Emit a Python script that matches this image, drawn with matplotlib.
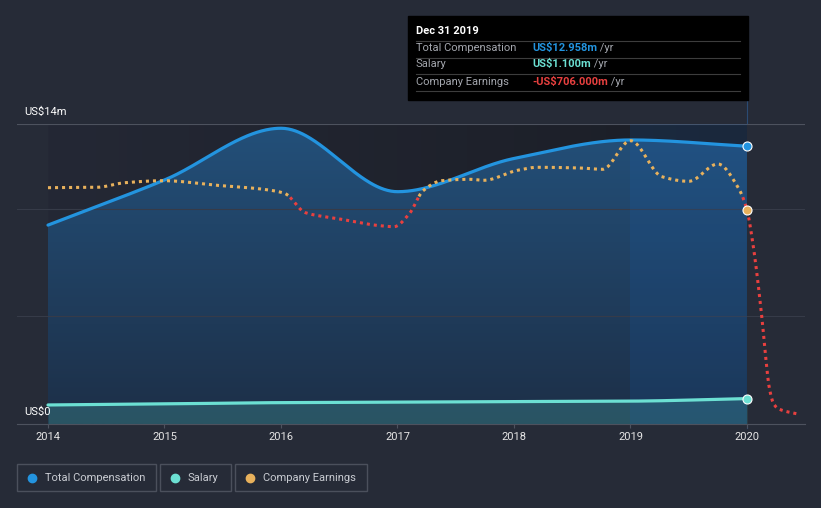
import numpy as np
import matplotlib.pyplot as plt
from matplotlib.colors import LinearSegmentedColormap
from matplotlib.patches import Rectangle
from matplotlib.lines import Line2D

plt.rcParams['font.family'] = ['Roboto', 'DejaVu Sans']

# Chart data (US$m)
YEARS = [2014, 2015, 2016, 2017, 2018, 2019, 2020]
TOTAL_COMP = [9.25, 11.37, 13.8, 10.82, 12.38, 13.25, 12.958]
SALARY = [0.8, 0.85, 0.91, 0.93, 0.96, 0.98, 1.1]
EARN_DATES = [2014.00, 2014.42, 2014.66, 2014.99, 2015.45, 2015.85, 2016.03,
              2016.21, 2016.49, 2016.85, 2016.97, 2017.10, 2017.22, 2017.38,
              2017.62, 2017.74, 2018.03, 2018.20, 2018.57, 2018.76, 2019.00,
              2019.27, 2019.50, 2019.75, 2019.92, 2020.00, 2020.05, 2020.13,
              2020.16, 2020.19, 2020.23, 2020.27, 2020.45]
EARNINGS = [505, 527, 776, 885, 635, 418, 201, -852, -1178, -1558, -1613,
            -923, 342, 885, 961, 907, 1450, 1613, 1575, 1504, 3057, 1102, 853,
            1792, 559, -706, -2500, -6680, -8660, -10300, -11240, -11500, -11800]
X_LABELS = ['2014', '2015', '2016', '2017', '2018', '2019', '2020']

BG = '#262b37'
BLUE = '#2394df'
TEAL = '#6ce0d3'
ORANGE = '#e8b15c'
RED = '#e8403f'
W, H = 821, 508


def fx(px):
    return px / W


def fy(py):
    return 1 - py / H


def smooth(x, y, n=600):
    """monotone cubic curve through the points, for drawing only"""
    x = np.asarray(x, float)
    y = np.asarray(y, float)
    h = np.diff(x)
    d = np.diff(y) / h
    m = np.zeros_like(y)
    m[0], m[-1] = d[0], d[-1]
    for k in range(1, len(y) - 1):
        if d[k - 1] * d[k] > 0:
            w1 = 2 * h[k] + h[k - 1]
            w2 = h[k] + 2 * h[k - 1]
            m[k] = (w1 + w2) / (w1 / d[k - 1] + w2 / d[k])
    xs = np.linspace(x[0], x[-1], n)
    idx = np.clip(np.searchsorted(x, xs) - 1, 0, len(h) - 1)
    t = (xs - x[idx]) / h[idx]
    h00 = 2 * t**3 - 3 * t**2 + 1
    h10 = t**3 - 2 * t**2 + t
    h01 = -2 * t**3 + 3 * t**2
    h11 = t**3 - t**2
    ys = (h00 * y[idx] + h10 * h[idx] * m[idx] + h01 * y[idx + 1]
          + h11 * h[idx] * m[idx + 1])
    return xs, ys


fig = plt.figure(figsize=(W / 100, H / 100), dpi=100, facecolor=BG)
ax = fig.add_axes([fx(17), fy(424), 788 / W, 300 / H])
ax.set_facecolor(BG)
XLIM = (2013.734, 2020.498)
YLIM = (-0.094, 14)

# darker plot background between first and last year
bg_cmap = LinearSegmentedColormap.from_list('bg', ['#242835', '#1b1e26'])
ax.imshow(np.linspace(0, 1, 256).reshape(1, -1), cmap=bg_cmap, aspect='auto',
          extent=(2014, 2020, YLIM[0], YLIM[1]), zorder=0,
          interpolation='bilinear')

# total compensation area with vertical gradient
tx, ty = smooth(YEARS, TOTAL_COMP)
poly = ax.fill_between(tx, ty, YLIM[0], color='none', zorder=1)
fill_cmap = LinearSegmentedColormap.from_list('fill', ['#1d2f47', '#23507a'])
im = ax.imshow(np.linspace(0, 1, 256).reshape(-1, 1), cmap=fill_cmap,
               aspect='auto', origin='lower', interpolation='bilinear',
               extent=(2014, 2020, YLIM[0], YLIM[1]), zorder=1)
im.set_clip_path(poly.get_paths()[0], ax.transData)

sx, sy = smooth(YEARS, SALARY)
ax.fill_between(sx, sy, YLIM[0], color='#4fc3b9', alpha=0.25, lw=0, zorder=2)

# highlighted last year
ax.axvspan(2019, 2020, color='#1565c0', alpha=0.15, lw=0, zorder=2)

for val, col in [(14, '#4d525e'), (10, '#363b48'), (5, '#363b48')]:
    ax.axhline(val, color=col, lw=0.8, zorder=1.5)

ax.plot(tx, ty, color=BLUE, lw=2.3, zorder=4, solid_capstyle='round')
ax.plot(sx, sy, color=TEAL, lw=2.3, zorder=4, solid_capstyle='round')
ax.plot([YEARS[-1]], [TOTAL_COMP[-1]], 'o', ms=6.5, color=BLUE, mec='white',
        mew=0.8, zorder=7)
ax.plot([YEARS[-1]], [SALARY[-1]], 'o', ms=6.5, color=TEAL, mec='white',
        mew=0.8, zorder=7)

ax.set_xlim(XLIM)
ax.set_ylim(YLIM)
ax.set_xticks(YEARS)
ax.set_xticklabels(X_LABELS)
ax.set_yticks([])
for side in ['top', 'right', 'left']:
    ax.spines[side].set_visible(False)
ax.spines['bottom'].set_color('#4d525e')
ax.tick_params(axis='x', colors='#4d525e', labelcolor='#e6e6e6', labelsize=8,
               length=3, pad=3)

# company earnings on its own scale
ax2 = ax.twinx()
ax2.set_ylim(-12326, 3964)
ax2.axis('off')
ex, ey = smooth(EARN_DATES, EARNINGS, 1500)
ax2.plot(ex, np.where(ey >= 0, ey, np.nan), color=ORANGE, lw=2.2,
         ls=(0, (1, 1.3)), zorder=5)
ax2.plot(ex, np.where(ey < 0, ey, np.nan), color=RED, lw=2.2,
         ls=(0, (1, 1.3)), zorder=5)
ax2.plot([2020], [-706], 'o', ms=6.5, color=ORANGE, mec='white', mew=0.8,
         zorder=7)

# y labels
fig.text(fx(24), fy(112), 'US$14m', color='white', fontsize=8, va='center')
fig.text(fx(24), fy(412), 'US$0', color='white', fontsize=8, va='center')

# hover line
fig.add_artist(Line2D([fx(747), fx(747)], [fy(100), fy(428)], color='#2a4b73',
                      lw=0.8, zorder=0))

# tooltip
fig.add_artist(Rectangle((fx(408), fy(100)), 340 / W, 84 / H,
                         transform=fig.transFigure, color='black'))
fig.text(fx(416), fy(31), 'Dec 31 2019', color='white', fontsize=8,
         fontweight='bold', va='center')
for ly in [40.7, 57.7, 74.3, 91]:
    fig.add_artist(Line2D([fx(416), fx(740)], [fy(ly), fy(ly)],
                          color='#3d3d3d', lw=0.8))
rows = [('Total Compensation', 'US$12.958m', BLUE, 47.7),
        ('Salary', 'US$1.100m', TEAL, 64.3),
        ('Company Earnings', '-US$706.000m', RED, 81.7)]
for label, value, col, ry in rows:
    fig.text(fx(416), fy(ry), label, color='#a3a6ad', fontsize=8, va='center')
    t = fig.text(fx(532), fy(ry), value, color=col, fontsize=8,
                 fontweight='bold', va='center')
    fig.add_artist(plt.Annotation(' /yr', xy=(1, 0.5), xycoords=t,
                                  va='center', color='#a3a6ad', fontsize=8))

# legend
legend = [('Total Compensation', BLUE, 17, 155.7),
          ('Salary', TEAL, 160.3, 230.7),
          ('Company Earnings', ORANGE, 235.3, 366.7)]
for label, col, x0, x1 in legend:
    fig.add_artist(Rectangle((fx(x0), fy(491)), (x1 - x0) / W, 27 / H,
                             transform=fig.transFigure, fill=False,
                             ec='#4b505c', lw=1))
    fig.add_artist(Line2D([fx(x0 + 15)], [fy(477.7)], marker='o', ms=6,
                          color=col, lw=0))
    fig.text(fx(x0 + 27.5), fy(477.7), label, color='#c9ccd2', fontsize=8,
             va='center')

fig.savefig('out.png', dpi=100, facecolor=BG)
